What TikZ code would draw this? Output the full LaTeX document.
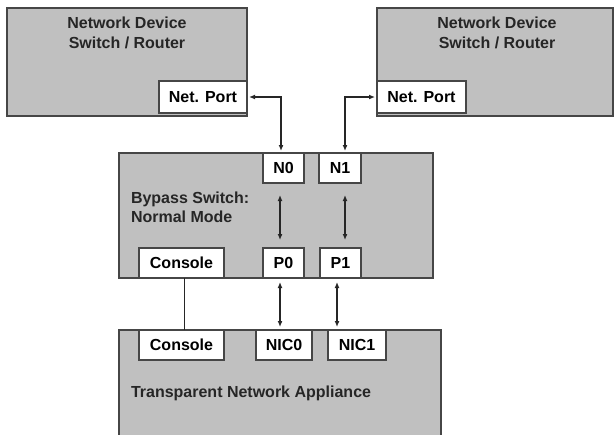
\documentclass[tikz,border=0pt]{standalone}
\usepackage{fontspec}
\setmainfont{Liberation Sans}
\usetikzlibrary{arrows.meta,calc}
\definecolor{boxgray}{RGB}{192,192,192}
\definecolor{edgegray}{RGB}{70,70,70}
\begin{document}
\begin{tikzpicture}[x=1pt,y=-1pt,
  every node/.style={inner sep=0pt,outer sep=0pt,font=\fontsize{16}{19}\selectfont\bfseries},
  bigbox/.style={draw=edgegray,fill=boxgray,line width=1.3pt,rectangle},
  port/.style={draw=edgegray,fill=white,line width=1.1pt,rectangle,minimum height=30pt},
  lbl/.style={align=center,text=black!85},
  arr/.style={draw=black!85,line width=1.2pt,{Latex[length=6pt,width=5pt]}-{Latex[length=6pt,width=5pt]}}
]
\useasboundingbox (0,0) rectangle (615,434);
\clip (0,0) rectangle (615,434);
% big boxes
\node[bigbox,minimum width=240pt,minimum height=108pt] (dev1) at (127,62) {};
\node[bigbox,minimum width=236pt,minimum height=108pt] (dev2) at (495,62) {};
\node[bigbox,minimum width=314pt,minimum height=125pt] (byp) at (276,215.5) {};
\node[bigbox,minimum width=322pt,minimum height=112pt] (app) at (280,386) {};
% big box texts
\node[lbl,align=center,font=\fontsize{16}{20}\selectfont\bfseries] (t1) at (127,33) {Network Device\\Switch / Router};
\node[lbl,align=center,font=\fontsize{16}{20}\selectfont\bfseries] (t2) at (497,33) {Network Device\\Switch / Router};
\node[lbl,align=left,anchor=west] (t3) at (131,207.5) {Bypass Switch:\\Normal Mode};
\node[lbl,anchor=west] (t4) at (131,393) {Transparent Network Appliance};
% ports
\node[port,minimum width=88pt,minimum height=32pt] (np1) at (203,97) {Net. Port};
\node[port,minimum width=89pt,minimum height=32pt] (np2) at (421.5,97) {Net. Port};
\node[port,minimum width=41pt] (n0) at (283.5,168) {N0};
\node[port,minimum width=42pt] (n1) at (340,168) {N1};
\node[port,minimum width=41pt] (p0) at (283.5,263) {P0};
\node[port,minimum width=41pt] (p1) at (340.5,263) {P1};
\node[port,minimum width=85pt] (c1) at (181.5,263) {Console};
\node[port,minimum width=85pt] (c2) at (181.5,345) {Console};
\node[port,minimum width=56pt] (nic0) at (284,345) {NIC0};
\node[port,minimum width=58pt] (nic1) at (357,345) {NIC1};
% connectors
\draw[arr,shorten <=2pt,shorten >=2pt] (np1.east) -| ([xshift=-2.5pt]n0.north);
\draw[arr,shorten <=2pt,shorten >=2pt] (np2.west) -| ([xshift=5pt]n1.north);
\draw[arr,shorten <=12pt,shorten >=8pt] ([xshift=-3.5pt]n0.south) -- ([xshift=-3.5pt]p0.north);
\draw[arr,shorten <=12pt,shorten >=8pt] ([xshift=5pt]n1.south) -- ([xshift=4.5pt]p1.north);
\draw[arr,shorten <=4pt,shorten >=3pt] ([xshift=-3.5pt]p0.south) -- ([xshift=-3.5pt]p0.south |- nic0.north);
\draw[arr,shorten <=4pt,shorten >=3pt] ([xshift=-3.5pt]p1.south) -- ([xshift=-3.5pt]p1.south |- nic1.north);
\draw[draw=black!85,line width=1pt] ([xshift=2.5pt]c1.south) -- ([xshift=2.5pt]c2.north);
\end{tikzpicture}
\end{document}
